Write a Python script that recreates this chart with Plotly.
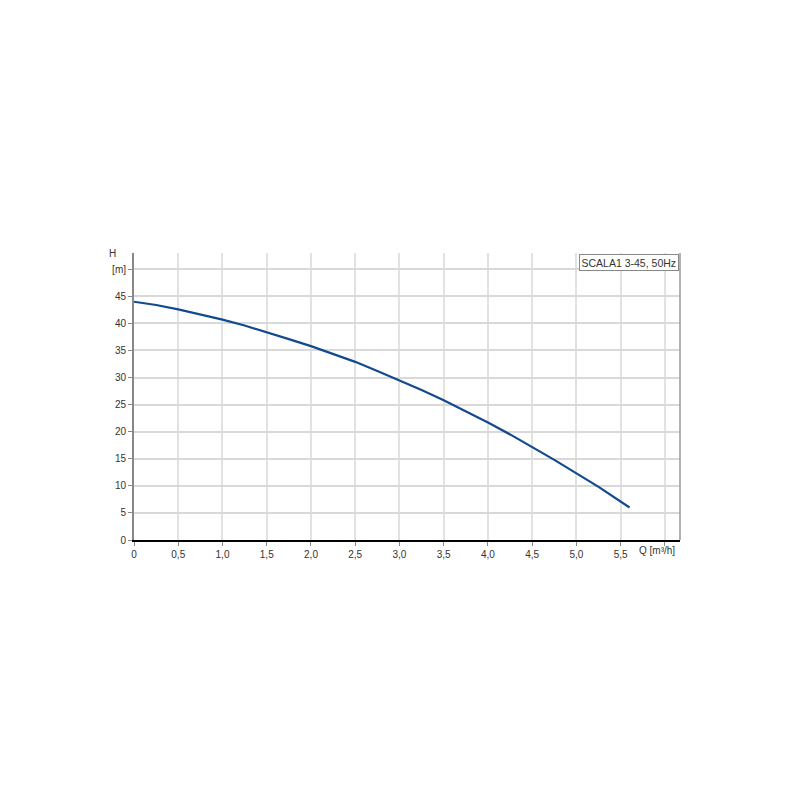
import plotly.graph_objects as go

q = [0.0, 0.25, 0.5, 0.75, 1.0, 1.25, 1.5, 1.75, 2.0, 2.25, 2.5, 2.75, 3.0, 3.25, 3.5, 3.75, 4.0, 4.25, 4.5, 4.75, 5.0, 5.25, 5.6]
h = [44.0, 43.4, 42.6, 41.7, 40.7, 39.6, 38.4, 37.1, 35.8, 34.4, 32.9, 31.2, 29.5, 27.7, 25.8, 23.8, 21.7, 19.5, 17.2, 14.8, 12.3, 9.8, 6.0]

x_ticks = [0, 0.5, 1.0, 1.5, 2.0, 2.5, 3.0, 3.5, 4.0, 4.5, 5.0, 5.5, 6.0]
x_labels = ["0", "0,5", "1,0", "1,5", "2,0", "2,5", "3,0", "3,5", "4,0", "4,5", "5,0", "5,5", ""]
y_ticks = [0, 5, 10, 15, 20, 25, 30, 35, 40, 45, 50]
y_labels = ["0", "5", "10", "15", "20", "25", "30", "35", "40", "45", "[m]"]

fig = go.Figure()
fig.add_trace(go.Scatter(x=q, y=h, mode="lines", line=dict(color="#134a8e", width=2.2),
                         showlegend=False, hoverinfo="skip"))

font = dict(family="Liberation Sans, Arial, sans-serif", size=10, color="#333333")
fig.update_layout(
    width=800, height=800,
    margin=dict(l=126, r=128, t=245, b=268),
    paper_bgcolor="white", plot_bgcolor="white",
    font=font,
    xaxis=dict(range=[0, 6.17], tickvals=x_ticks, ticktext=x_labels, showgrid=True,
               gridcolor="#e2e2e2", gridwidth=1.5, zeroline=False, showline=True, linecolor="black",
               linewidth=2, ticks="outside", ticklen=4, tickcolor="#888888", mirror=False),
    yaxis=dict(range=[0, 53], tickvals=y_ticks, ticktext=y_labels, showgrid=True,
               gridcolor="#d9d9d9", gridwidth=1.5, zeroline=False, showline=True, linecolor="#888888",
               linewidth=2, ticks="outside", ticklen=4, tickcolor="#888888"),
    shapes=[
        dict(type="line", xref="paper", yref="paper", x0=1, x1=1, y0=0, y1=1,
             line=dict(color="#999999", width=1.5)),
    ],
    annotations=[
        dict(text="H", xref="paper", yref="paper", x=-0.04, y=1.0, xanchor="center", yanchor="middle",
             showarrow=False, font=font),
        dict(text="Q [m³/h]", xref="paper", yref="paper", x=0.957, y=0, xanchor="center", yanchor="top",
             yshift=-3, showarrow=False, font=font),
        dict(text="SCALA1 3-45, 50Hz", xref="paper", yref="paper", x=0.999, y=0.998,
             xanchor="right", yanchor="top", showarrow=False,
             font=dict(family="Liberation Sans, Arial, sans-serif", size=10.5, color="#333333"),
             bordercolor="#888888", borderwidth=1, borderpad=1.5, bgcolor="white"),
    ],
)

fig.write_html("out.html")
